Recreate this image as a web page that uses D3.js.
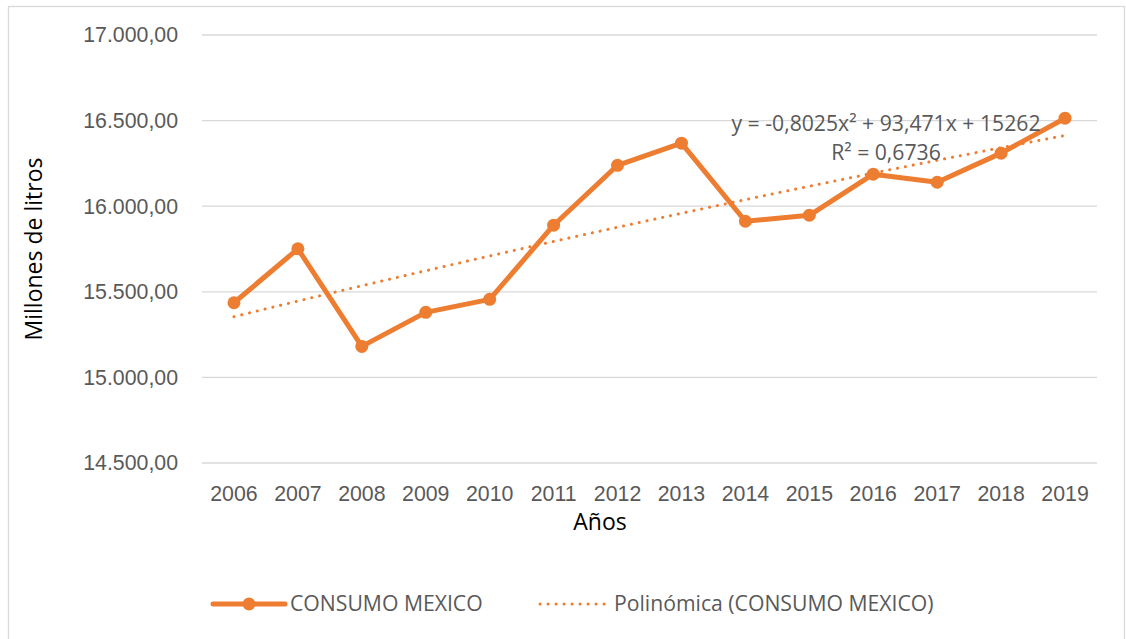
<!DOCTYPE html>
<meta charset="utf-8">
<style>
body { margin: 0; background: #fff; }
svg { font-family: "Open Sans", sans-serif; }
.tick text { fill: #595959; font-size: 21.3px; }
.grid line { stroke: #d9d9d9; stroke-width: 1.3px; }
.axis-title { fill: #000; font-size: 23px; }
.legend text, .trend-label { fill: #595959; font-size: 21.2px; }
</style>
<body>
<svg width="1126" height="639"></svg>
<script src="https://cdn.jsdelivr.net/npm/d3@7"></script>
<script>

let years = [2006, 2007, 2008, 2009, 2010, 2011, 2012, 2013, 2014, 2015, 2016, 2017, 2018, 2019];
let consumo = [15436, 15751, 15181, 15380, 15456, 15889, 16239, 16368, 15912, 15947, 16187, 16140, 16310, 16514];
let yTicks = [14500, 15000, 15500, 16000, 16500, 17000];
// trendline coefficients shown on the chart: a*x^2 + b*x + c
let trendCoef = [-0.8025, 93.471, 15262];
let trendText = ['y = -0,8025x² + 93,471x + 15262', 'R² = 0,6736'];

let orange = '#ed7d31';
let svg = d3.select('svg');

// chart border
svg.append('rect')
  .attr('x', 8.5).attr('y', 6.5)
  .attr('width', 1116).attr('height', 640)
  .attr('fill', 'none').attr('stroke', '#d9d9d9').attr('stroke-width', 1.3);

let x = d3.scaleBand().domain(years).range([202, 1097]);
let y = d3.scaleLinear().domain([14500, 17000]).range([463, 35]);
let xc = d => x(d) + x.bandwidth() / 2;

let fmt = d3.formatLocale({ decimal: ',', thousands: '.', grouping: [3], currency: ['', ''] }).format(',.2f');

// gridlines
svg.append('g').attr('class', 'grid')
  .selectAll('line')
  .data(yTicks)
  .join('line')
  .attr('x1', 202).attr('x2', 1097)
  .attr('y1', d => y(d)).attr('y2', d => y(d));

// y axis labels
let yAxis = svg.append('g')
  .attr('transform', 'translate(202,0)')
  .call(d3.axisLeft(y).tickValues(yTicks).tickFormat(fmt).tickSize(0).tickPadding(24));
yAxis.select('.domain').remove();

// x axis labels
let xAxis = svg.append('g')
  .attr('transform', 'translate(0,463)')
  .call(d3.axisBottom(x).tickSize(0).tickPadding(23));
xAxis.select('.domain').remove();

// axis titles
svg.append('text').attr('class', 'axis-title')
  .attr('transform', 'translate(42,249) rotate(-90)')
  .attr('text-anchor', 'middle')
  .text('Millones de litros');

svg.append('text').attr('class', 'axis-title')
  .attr('x', 600).attr('y', 530)
  .attr('text-anchor', 'middle')
  .text('Años');

// trendline (polynomial, order 2, x = 1..n)
let trendPts = d3.range(0, years.length - 1 + 0.001, 0.1).map(function(i) {
  let t = i + 1;
  let v = trendCoef[0] * t * t + trendCoef[1] * t + trendCoef[2];
  return [x(years[0]) + x.bandwidth() / 2 + i * x.step(), y(v)];
});

svg.append('path')
  .datum(trendPts)
  .attr('d', d3.line().curve(d3.curveMonotoneX))
  .attr('fill', 'none')
  .attr('stroke', orange)
  .attr('stroke-width', 3)
  .attr('stroke-linecap', 'round')
  .attr('stroke-dasharray', '0.1 7.9');

// main series
let line = d3.line()
  .x((d, i) => xc(years[i]))
  .y(d => y(d));

svg.append('path')
  .datum(consumo)
  .attr('d', line)
  .attr('fill', 'none')
  .attr('stroke', orange)
  .attr('stroke-width', 5)
  .attr('stroke-linejoin', 'round');

svg.append('g')
  .selectAll('circle')
  .data(consumo)
  .join('circle')
  .attr('cx', (d, i) => xc(years[i]))
  .attr('cy', d => y(d))
  .attr('r', 6.5)
  .attr('fill', orange);

// trendline label
svg.append('g')
  .selectAll('text')
  .data(trendText)
  .join('text')
  .attr('class', 'trend-label')
  .attr('x', 886)
  .attr('y', (d, i) => 131 + i * 29)
  .attr('text-anchor', 'middle')
  .text(d => d);

// legend
let lg = svg.append('g').attr('class', 'legend');
lg.append('line')
  .attr('x1', 213).attr('x2', 285).attr('y1', 604).attr('y2', 604)
  .attr('stroke', orange).attr('stroke-width', 5).attr('stroke-linecap', 'round');
lg.append('circle').attr('cx', 249).attr('cy', 604).attr('r', 6.5).attr('fill', orange);
lg.append('text').attr('x', 290).attr('y', 611).text('CONSUMO MEXICO');

lg.append('line')
  .attr('x1', 540).attr('x2', 607).attr('y1', 604).attr('y2', 604)
  .attr('stroke', orange).attr('stroke-width', 3)
  .attr('stroke-linecap', 'round').attr('stroke-dasharray', '0.1 7.9');
lg.append('text').attr('x', 614).attr('y', 611).text('Polinómica (CONSUMO MEXICO)');

</script>
</body>
